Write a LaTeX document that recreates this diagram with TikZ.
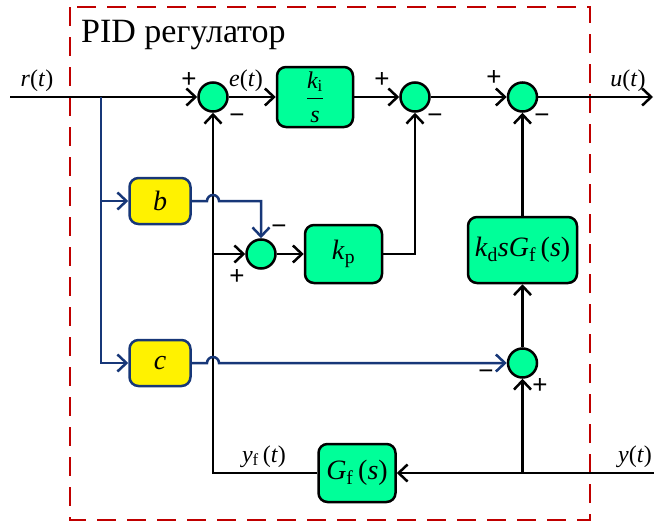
\documentclass[tikz,border=0pt]{standalone}
\usepackage{amsmath}
\usepackage{fontspec}
\setmainfont{Liberation Serif}
\newfontfamily\signfont{Liberation Sans}
\usetikzlibrary{arrows.meta,positioning}
\definecolor{pidgreen}{HTML}{00FF99}
\definecolor{pidblue}{RGB}{23,55,120}
\definecolor{pidred}{HTML}{C00000}

\begin{document}
\begin{tikzpicture}[
    x=1pt, y=-1pt,
    node distance=28pt,
    block/.style={draw, line width=2.5pt, fill=pidgreen, rounded corners=9pt, align=center, inner sep=2pt, font=\fontsize{28}{30}\selectfont},
    gainbox/.style={block, draw=pidblue, fill=yellow, minimum width=61pt, minimum height=46pt},
    sum/.style={circle, draw, line width=2.5pt, fill=pidgreen, minimum size=29pt, inner sep=0pt},
    sig/.style={font=\fontsize{24}{26}\selectfont, inner sep=0pt},
    sgn/.style={font=\signfont\fontsize{26}{28}\selectfont, inner sep=0pt},
    arrow/.style={-{Straight Barb[length=9pt,width=17pt]}, line width=2.5pt},
    bluearrow/.style={arrow, draw=pidblue}
  ]
  \useasboundingbox (0,0) rectangle (654,522);
  % regulator frame
  \draw[pidred, line width=2.8pt, dash pattern=on 19pt off 11pt] (70,7) rectangle (590,520);
  \node[anchor=base west, inner sep=0pt, font=\fontsize{34}{36}\selectfont] (title) at (81,42) {PID регулатор};

  % blocks
  \node[sum] (s1) at (213,97) {};
  \node[block, right=47pt of s1, minimum width=76pt, minimum height=60pt, font=\fontsize{24}{26}\selectfont] (ki) {$\dfrac{\textit{k}_{\textup{i}}}{\textit{s}}$};
  \node[sum, right=45pt of ki] (s2) {};
  \node[sum, right=76pt of s2] (s3) {};
  \node[block, below=103pt of s3, minimum width=109pt, minimum height=66pt] (kd) {\textit{k}\textsubscript{d}\textit{sG}\textsubscript{f}\,(\textit{s})};
  \node[sum, below=63pt of kd] (s5) {};
  \node[gainbox] (b) at (160,201) {\textit{b}};
  \node[gainbox] (c) at (b |- s5) {\textit{c}};
  \node[sum] (s4) at (261,254) {};
  \node[block, right=27pt of s4, minimum width=77pt, minimum height=58pt] (kp) {\textit{k}\textsubscript{p}};
  \node[block, minimum width=77pt, minimum height=58pt] (gf) at (357,473) {\textit{G}\textsubscript{f}\,(\textit{s})};

  \coordinate (rin) at (10,97);
  \coordinate (split) at (101,97);
  \coordinate (uout) at (653,97);
  \coordinate (yin) at (654,473);
  \coordinate (ytap) at (s5 |- gf);
  \coordinate (fb) at (s1 |- s4);

  % signals
  \draw[arrow] (rin) -- (s1);
  \draw[arrow] (s1) -- (ki);
  \draw[arrow] (ki) -- (s2);
  \draw[arrow] (s2) -- (s3);
  \draw[arrow] (s3) -- (uout);
  \draw[arrow] (yin) -- (gf);
  \draw[arrow] (gf) -| (s1);
  \draw[arrow] (ytap) -- (s5);
  \draw[arrow] (s5) -- (kd);
  \draw[arrow] (kd) -- (s3);
  \draw[arrow] (kp) -| (s2);
  \draw[arrow] (fb) -- (s4);
  \draw[arrow] (s4) -- (kp);
  \draw[bluearrow] (split) |- (b);
  \draw[bluearrow] (split) |- (c);
  \draw[bluearrow] (b.east) -- ([xshift=-6pt]s1 |- b.east) arc[start angle=180, end angle=0, radius=6pt] -| (s4);
  \draw[bluearrow] (c.east) -- ([xshift=-6pt]s1 |- c.east) arc[start angle=180, end angle=0, radius=6pt] -- (s5);

  % labels
  \node[sig, anchor=base] (rlbl) at (37,86) {\textit{r}(\textit{t})};
  \node[sig, anchor=base] (elbl) at (246,86) {\textit{e}(\textit{t})};
  \node[sig, anchor=base] (ulbl) at (628,86) {\textit{u}(\textit{t})};
  \node[sig, anchor=base] (yflbl) at (264,462) {\textit{y}\textsubscript{f}\,(\textit{t})};
  \node[sig, anchor=base] (ylbl) at (635,462) {\textit{y}(\textit{t})};
  \node[sgn] (p1) at (189,80) {+};
  \node[sgn] (m1) at (237,119) {−};
  \node[sgn] (p2) at (382,80) {+};
  \node[sgn] (m2) at (435,119) {−};
  \node[sgn] (p3) at (494,78) {+};
  \node[sgn] (m3) at (542,119) {−};
  \node[sgn] (m4) at (279,230) {−};
  \node[sgn] (p4) at (237,277) {+};
  \node[sgn] (m5) at (486,375) {−};
  \node[sgn] (p5) at (540,386) {+};
\end{tikzpicture}
\end{document}
